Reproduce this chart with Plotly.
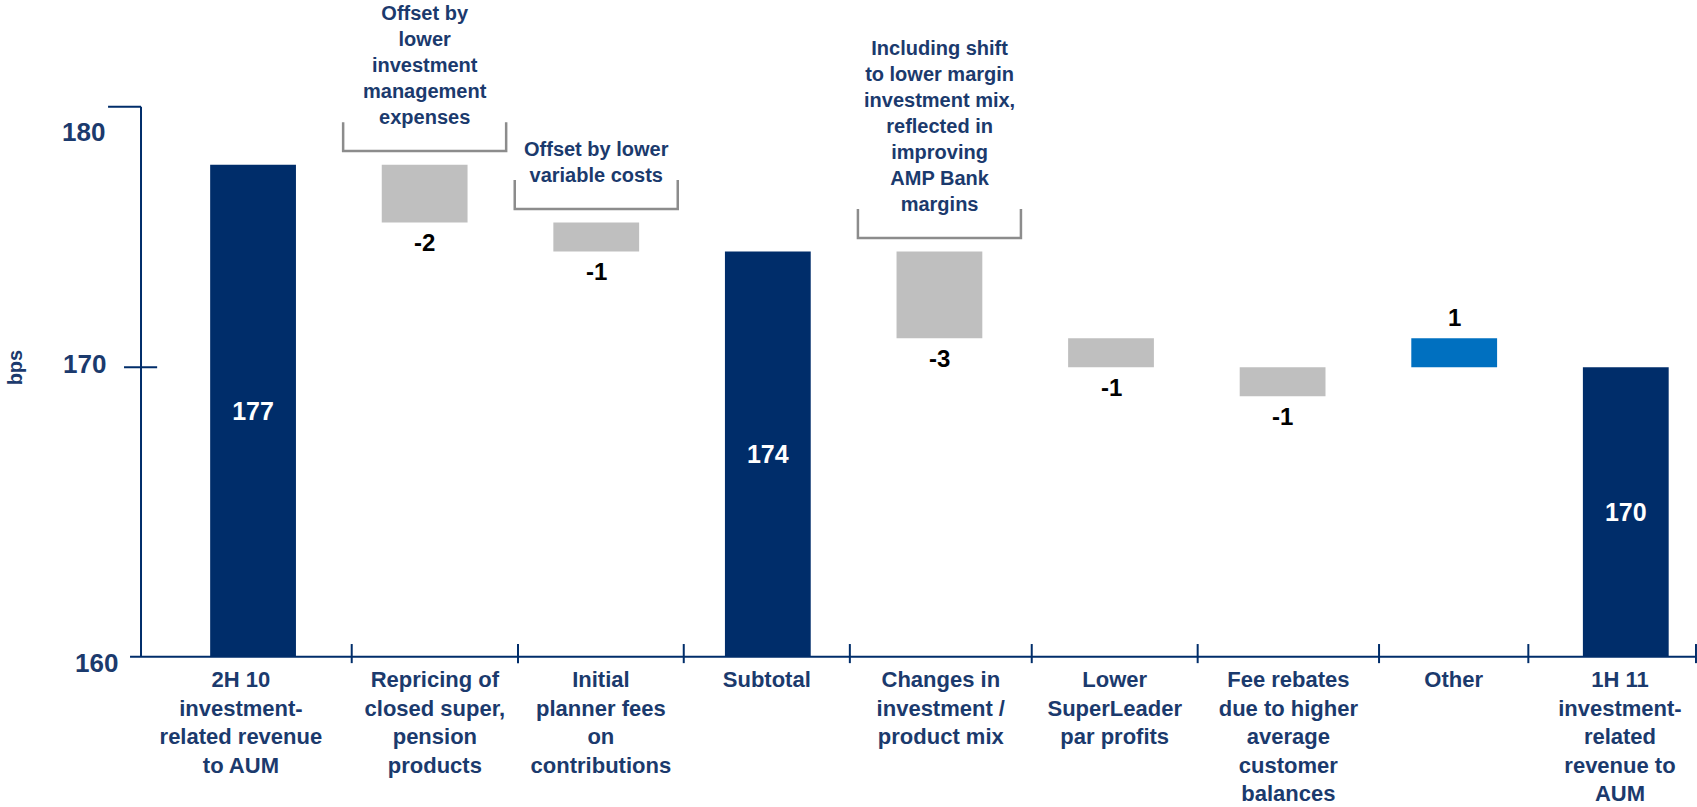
import plotly.graph_objects as go

# ---------------- data ----------------
CATEGORIES = [
    "2H 10<br>investment-<br>related revenue<br>to AUM",
    "Repricing of<br>closed super,<br>pension<br>products",
    "Initial<br>planner fees<br>on<br>contributions",
    "Subtotal",
    "Changes in<br>investment /<br>product mix",
    "Lower<br>SuperLeader<br>par profits",
    "Fee rebates<br>due to higher<br>average<br>customer<br>balances",
    "Other",
    "1H 11<br>investment-<br>related<br>revenue to<br>AUM",
]
KIND = ["total", "delta", "delta", "total", "delta", "delta", "delta", "delta", "total"]
VALUES = [177, -2, -1, 174, -3, -1, -1, 1, 170]
DELTA_START = [None, 177, 175, None, 174, 171, 170, 170, None]   # level each step bar starts from
Y_FLOOR = 160
Y_TICK_TEXT = ["160", "170", "180"]
CALLOUTS = {
    1: "Offset by<br>lower<br>investment<br>management<br>expenses",
    2: "Offset by lower<br>variable costs",
    4: "Including shift<br>to lower margin<br>investment mix,<br>reflected in<br>improving<br>AMP Bank<br>margins",
}
Y_AXIS_LABEL = "bps"

# ---------------- style ----------------
NAVY = "#002D6A"
TEXT_NAVY = "#1B3A6D"
GREY = "#BFBFBF"
BLUE = "#0070C0"
BRACKET = "#8C8C8C"
FONT = "Liberation Sans, Arial, sans-serif"

X_RANGE = [-0.892, 8.415]
Y_RANGE = [159.75, 182.69]
Y_AXIS_X = -0.653
Y_AXIS_TOP = 179
X_AXIS_START, X_AXIS_END = -0.717, 8.409
X_BOUNDS = [0.575, 1.544, 2.51, 3.478, 4.538, 5.505, 6.562, 7.432]
Y_TICK_POS = [159.79, 170.1, 178.14]
Y_TICK_RIGHT = [-0.775, -0.845, -0.851]

n = len(CATEGORIES)
xs = list(range(n))
bases, heights, colors, texts = [], [], [], []
for k, v, s in zip(KIND, VALUES, DELTA_START):
    if k == "total":
        bases.append(Y_FLOOR)
        heights.append(v - Y_FLOOR)
        colors.append(NAVY)
        texts.append(str(v))
    else:
        bases.append(s)
        heights.append(v)
        colors.append(BLUE if v > 0 else GREY)
        texts.append("")

fig = go.Figure()
fig.add_trace(go.Bar(
    x=xs, y=heights, base=bases, width=0.5,
    marker=dict(color=colors, line=dict(width=0)),
    text=texts, textposition="inside", insidetextanchor="middle",
    textfont=dict(family=FONT, size=25, color="white", weight="bold"),
    hoverinfo="skip",
))

shapes = []
line_axis = dict(color=NAVY, width=2)
# y axis line + ticks
shapes.append(dict(type="line", x0=Y_AXIS_X, x1=Y_AXIS_X, y0=Y_FLOOR, y1=Y_AXIS_TOP, line=line_axis))
shapes.append(dict(type="line", x0=-0.845, x1=Y_AXIS_X, y0=Y_AXIS_TOP, y1=Y_AXIS_TOP, line=line_axis))
shapes.append(dict(type="line", x0=-0.752, x1=-0.559, y0=170, y1=170, line=line_axis))
# x axis line + ticks
shapes.append(dict(type="line", x0=X_AXIS_START, x1=X_AXIS_END, y0=Y_FLOOR, y1=Y_FLOOR, line=line_axis))
for b in X_BOUNDS + [X_AXIS_END]:
    shapes.append(dict(type="line", x0=b, x1=b, y0=159.78, y1=160.44, line=line_axis))

annotations = []
# brackets + callouts
for i, txt in CALLOUTS.items():
    top = DELTA_START[i]
    yb = top + 0.47
    yt = yb + 1.0
    x0, x1 = i - 0.475, i + 0.475
    shapes.append(dict(type="path", path=f"M {x0},{yt} L {x0},{yb} L {x1},{yb} L {x1},{yt}",
                       line=dict(color=BRACKET, width=2.5)))
    annotations.append(dict(x=i, y=yt, xref="x", yref="y", text=txt, showarrow=False,
                            xanchor="center", yanchor="bottom", yshift=-8, align="center",
                            font=dict(family=FONT, size=20, color=TEXT_NAVY, weight="bold")))

# delta labels
for i, (k, v, s) in enumerate(zip(KIND, VALUES, DELTA_START)):
    if k == "delta":
        end = s + v
        annotations.append(dict(x=i, y=end, xref="x", yref="y", text=str(v), showarrow=False,
                                xanchor="center", yanchor="middle", yshift=21 if v > 0 else -20,
                                font=dict(family=FONT, size=24, color="black", weight="bold")))

# y tick labels
for t, p, xr in zip(Y_TICK_TEXT, Y_TICK_POS, Y_TICK_RIGHT):
    annotations.append(dict(x=xr, y=p, xref="x", yref="y", text=t, showarrow=False,
                            xanchor="right", yanchor="middle",
                            font=dict(family=FONT, size=26, color=TEXT_NAVY, weight="bold")))

annotations.append(dict(x=-0.0532, y=170, xref="paper", yref="y", text=Y_AXIS_LABEL, showarrow=False,
                        textangle=-90, xanchor="center", yanchor="middle",
                        font=dict(family=FONT, size=20, color=TEXT_NAVY, weight="bold")))

bounds = [X_AXIS_START] + X_BOUNDS + [n - 0.5]
label_pos = [(bounds[j] + bounds[j + 1]) / 2 for j in range(n)]

fig.update_layout(
    width=1697, height=807,
    margin=dict(l=100, r=0, t=0, b=143),
    plot_bgcolor="white", paper_bgcolor="white",
    showlegend=False,
    shapes=shapes, annotations=annotations,
    xaxis=dict(range=X_RANGE, tickvals=label_pos, ticktext=CATEGORIES, showline=False,
               showgrid=False, zeroline=False, ticks="",
               tickfont=dict(family=FONT, size=22, color=TEXT_NAVY, weight="bold")),
    yaxis=dict(range=Y_RANGE, showticklabels=False, showgrid=False, zeroline=False, showline=False),
)

fig.write_html("out.html")
